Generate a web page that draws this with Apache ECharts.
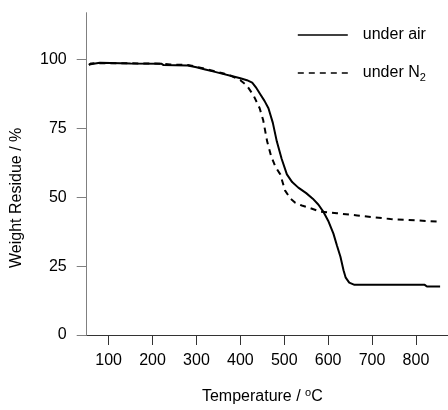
<!DOCTYPE html>
<html>
<head>
<meta charset="utf-8">
<script src="https://cdn.jsdelivr.net/npm/echarts@6/dist/echarts.min.js"></script>
<style>html,body{margin:0;padding:0;background:#fff}#c{width:448px;height:410px}</style>
</head>
<body>
<div id="c"></div>
<script>
var xTicks = [100, 200, 300, 400, 500, 600, 700, 800];
var yTicks = [0, 25, 50, 75, 100];

var airTemp = [55, 58, 80, 150, 220, 225, 280, 300, 320, 340, 360, 380, 400, 415, 427, 435, 445, 455, 464, 474, 483, 494, 506, 518, 532, 550, 565, 578, 590, 600, 612, 620, 628, 635, 640, 648, 660, 700, 800, 820, 825, 855];
var airVal  = [98.2, 98.8, 98.8, 98.6, 98.5, 98.0, 97.8, 97.2, 96.4, 95.6, 94.8, 94.0, 93.2, 92.5, 91.6, 90.0, 87.5, 85.0, 82.3, 77.0, 70.3, 64.0, 58.3, 55.5, 53.5, 51.5, 49.5, 47.3, 44.5, 41.5, 36.8, 32.5, 28.4, 23.5, 20.8, 19.0, 18.2, 18.2, 18.2, 18.2, 17.6, 17.6];

var n2Temp = [55, 60, 100, 220, 240, 280, 300, 330, 360, 380, 400, 415, 430, 444, 452, 461, 470, 480, 491, 502, 514, 525, 540, 560, 582, 620, 666, 700, 742, 800, 848];
var n2Val  = [98.0, 98.6, 98.7, 98.5, 98.2, 98.0, 97.4, 96.2, 95.0, 94.0, 92.5, 90.5, 87.0, 82.3, 78.0, 70.3, 65.0, 61.0, 58.3, 52.4, 49.5, 48.0, 47.0, 46.0, 44.8, 44.2, 43.4, 42.8, 42.1, 41.6, 41.2];

function pairs(xs, ys) { return xs.map(function (x, i) { return [x, ys[i]]; }); }

var FONT = 'Liberation Sans, Arial, Helvetica, sans-serif';
var chart = echarts.init(document.getElementById('c'), null, {renderer: 'canvas'});
chart.setOption({
  animation: false,
  backgroundColor: '#fff',
  textStyle: {fontFamily: FONT},
  grid: {left: 86.7, right: 0, top: 12.7, bottom: 71, containLabel: false},
  legend: {
    left: 292, top: 22, orient: 'vertical',
    itemWidth: 50, itemHeight: 14, itemGap: 22,
    itemStyle: {opacity: 0},
    lineStyle: {width: 1.6, color: '#000'},
    textStyle: {fontFamily: FONT, fontSize: 16, color: '#000', padding: [0, 0, 0, 10],
      rich: {sub: {fontFamily: FONT, fontSize: 11, color: '#000', padding: [9, 0, 0, 0]}}},
    formatter: function (n) { return n === 'under N2' ? 'under N{sub|2}' : n; },
    data: ['under air', 'under N2']
  },
  xAxis: {
    type: 'value', min: 50, max: 873,
    axisLine: {show: true, onZero: false, lineStyle: {color: '#333', width: 1}},
    axisTick: {show: true, length: 10, inside: false, customValues: xTicks, lineStyle: {color: '#333'}},
    axisLabel: {customValues: xTicks, margin: 18, fontSize: 16, color: '#000', fontFamily: FONT},
    splitLine: {show: false},
    name: 'Temperature / {sup|o}C', nameLocation: 'middle', nameGap: 52,
    nameTextStyle: {fontSize: 16, color: '#000', fontFamily: FONT, padding: [0, 10, 0, 0],
      rich: {sup: {fontSize: 11, color: '#000', fontFamily: FONT, padding: [0, 0, 9, 0]}}}
  },
  yAxis: {
    type: 'value', min: 0, max: 117,
    axisLine: {show: true, lineStyle: {color: '#808080', width: 1}},
    axisTick: {show: true, length: 10, inside: false, customValues: yTicks, lineStyle: {color: '#808080'}},
    axisLabel: {customValues: yTicks, margin: 20, fontSize: 16, color: '#000', fontFamily: FONT},
    splitLine: {show: false},
    name: 'Weight Residue / %', nameLocation: 'middle', nameGap: 62,
    nameTextStyle: {fontSize: 16, color: '#000', fontFamily: FONT, padding: [0, 48, 0, 0]}
  },
  series: [
    {name: 'under air', type: 'line', data: pairs(airTemp, airVal), symbol: 'none',
     lineStyle: {color: '#000', width: 2, type: 'solid'}, itemStyle: {color: '#000'}},
    {name: 'under N2', type: 'line', data: pairs(n2Temp, n2Val), symbol: 'none',
     lineStyle: {color: '#000', width: 2, type: [6, 5]}, itemStyle: {color: '#000'}}
  ]
});
</script>
</body>
</html>
